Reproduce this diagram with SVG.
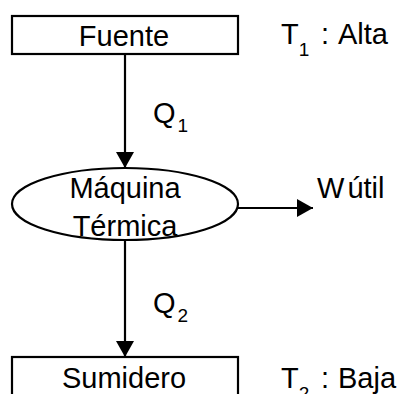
<svg xmlns="http://www.w3.org/2000/svg" width="401" height="394" viewBox="0 0 401 394">
<style>
.t{font-family:"Liberation Sans",Arial,sans-serif;font-size:29px;fill:#000}
.s{font-size:19px}
.b{fill:#fff;stroke:#000;stroke-width:2.2}
.c{stroke:#000;stroke-width:2.2;fill:none}
</style>
<defs>
<marker id="ah" viewBox="0 0 16 18" refX="16" refY="9" markerWidth="16" markerHeight="18" markerUnits="userSpaceOnUse" orient="auto">
<path d="M0,0 L16,9 L0,18 Z" fill="#000"/>
</marker>
</defs>
<rect width="401" height="394" fill="#fff"/>
<g id="connectors">
<line class="c" x1="125" y1="54" x2="125" y2="168" marker-end="url(#ah)"/>
<line class="c" x1="238" y1="208" x2="313" y2="208" marker-end="url(#ah)"/>
<line class="c" x1="125" y1="240" x2="125" y2="357" marker-end="url(#ah)"/>
<text class="t" x="153" y="123">Q<tspan class="s" dx="2" dy="9">1</tspan></text>
<text class="t" x="153" y="313">Q<tspan class="s" dx="2" dy="9">2</tspan></text>
</g>
<g id="fuente">
<rect class="b" x="12" y="16" width="226" height="38"/>
<text class="t" x="124" y="46" text-anchor="middle">Fuente</text>
<text class="t" x="281" y="44">T<tspan class="s" dy="12">1</tspan><tspan x="321" dy="-12">:</tspan><tspan x="338">Alta</tspan></text>
</g>
<g id="maquina">
<ellipse class="b" cx="125" cy="204" rx="113" ry="36"/>
<text class="t" x="125" y="198" text-anchor="middle">Máquina</text>
<text class="t" x="125" y="236" text-anchor="middle">Térmica</text>
</g>
<g id="wutil">
<text class="t" x="317" y="198">W<tspan dx="3">útil</tspan></text>
</g>
<g id="sumidero">
<rect class="b" x="12" y="357" width="226" height="50"/>
<text class="t" x="124" y="388" text-anchor="middle">Sumidero</text>
<text class="t" x="281" y="388">T<tspan class="s" dy="12">2</tspan><tspan x="321" dy="-12">:</tspan><tspan x="338">Baja</tspan></text>
</g>
</svg>
